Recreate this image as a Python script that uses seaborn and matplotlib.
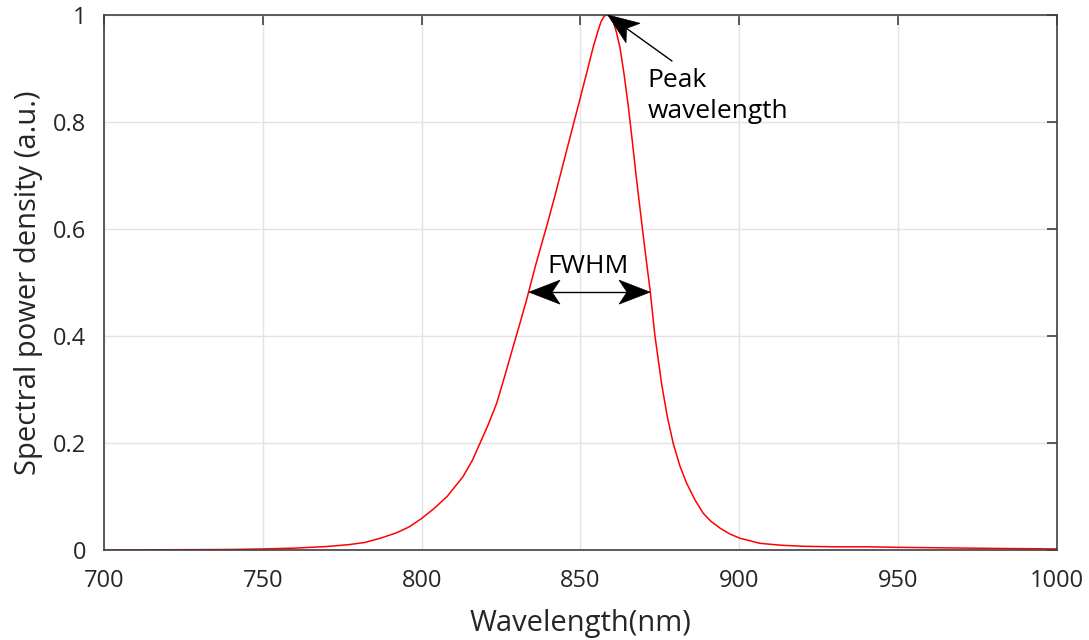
import matplotlib
matplotlib.use("Agg")
import numpy as np
import matplotlib.pyplot as plt
import seaborn as sns
import pandas as pd
from matplotlib.patches import Polygon

# spectrum
wavelength = [700, 720, 740, 750, 760, 770, 777, 782, 787, 792, 796, 800, 804,
              808, 813, 816, 818.4, 821, 823.6, 826, 828.8, 831, 833, 836,
              839.3, 842, 844.6, 847, 849.5, 852, 854, 855.5, 856.5, 857.5,
              858.3, 859.2, 860.3, 861.3, 862.4, 863.7, 865, 866.2, 867.5, 869,
              870.3, 871.9, 873.4, 875.5, 877.3, 879.2, 881.3, 883.4, 886,
              888.6, 891, 893.9, 897, 900.2, 906.5, 913, 920, 930, 940, 950,
              965, 980, 1000]
spd = [0.0, 0.0005, 0.001, 0.002, 0.0035, 0.0065, 0.010, 0.014, 0.022, 0.032,
       0.043, 0.059, 0.078, 0.100, 0.137, 0.168, 0.200, 0.235, 0.274, 0.322,
       0.380, 0.425, 0.467, 0.535, 0.604, 0.663, 0.723, 0.778, 0.835, 0.893,
       0.940, 0.970, 0.988, 0.998, 1.0, 0.998, 0.988, 0.968, 0.940, 0.890,
       0.832, 0.770, 0.700, 0.625, 0.561, 0.486, 0.402, 0.312, 0.250, 0.199,
       0.157, 0.125, 0.094, 0.069, 0.054, 0.041, 0.030, 0.022, 0.0125, 0.009,
       0.007, 0.006, 0.006, 0.005, 0.004, 0.003, 0.002]

x_ticks = [700, 750, 800, 850, 900, 950, 1000]
y_ticks = [0, 0.2, 0.4, 0.6, 0.8, 1]
y_tick_labels = ["0", "0.2", "0.4", "0.6", "0.8", "1"]

peak_tip = (858.6, 1.0)
peak_tail = (878.8, 0.914)
fwhm_left, fwhm_right, fwhm_level = 833.8, 871.9, 0.482


def arrow_head(ax, tip, tail, length=31, half_width=12, notch=8):
    # matlab style notched head, sized in pixels
    t = ax.transData.transform(tip)
    s = ax.transData.transform(tail)
    d = (t - s) / np.hypot(*(t - s))
    n = np.array([-d[1], d[0]])
    pts = [t, t - d * length + n * half_width, t - d * (length - notch),
           t - d * length - n * half_width]
    pts = ax.transData.inverted().transform(np.array(pts))
    ax.add_patch(Polygon(pts, closed=True, facecolor="black", edgecolor="black",
                         linewidth=0.5, zorder=5))
    return ax.transData.inverted().transform(t - d * (length - notch))


df = pd.DataFrame({"wavelength": wavelength, "spd": spd})

sns.set_style("white")
plt.rcParams["font.family"] = ["Open Sans", "DejaVu Sans"]

fig = plt.figure(figsize=(10.89, 6.4), dpi=100)
ax = fig.add_axes([0.0955, 0.1406, 0.8751, 0.836])

sns.lineplot(data=df, x="wavelength", y="spd", color="#ff0000", linewidth=1.1, ax=ax)

ax.set_xlim(700, 1000)
ax.set_ylim(0, 1)
ax.set_xticks(x_ticks)
ax.set_yticks(y_ticks)
ax.set_yticklabels(y_tick_labels)
ax.grid(True, color="#e3e3e3", linewidth=1.0)
ax.set_axisbelow(True)
ax.tick_params(direction="in", length=7, width=1.2, colors="#404040",
               labelcolor="#262626", labelsize=17, top=True, right=True)
ax.tick_params(axis="x", pad=14)
ax.tick_params(axis="y", pad=13)
for s in ax.spines.values():
    s.set_color("#404040")
    s.set_linewidth(1.2)
ax.set_xlabel("Wavelength(nm)", fontsize=21, color="#262626", labelpad=11)
ax.set_ylabel("Spectral power density (a.u.)", fontsize=21, color="#262626", labelpad=7)

# peak annotation
base = arrow_head(ax, peak_tip, peak_tail)
ax.plot([peak_tail[0], base[0]], [peak_tail[1], base[1]], color="black", linewidth=1.0)
ax.text(871.2, 0.90, "Peak\nwavelength", fontsize=19, color="black",
        ha="left", va="top", linespacing=1.3)

# FWHM annotation
b1 = arrow_head(ax, (fwhm_left, fwhm_level), (fwhm_right, fwhm_level))
b2 = arrow_head(ax, (fwhm_right, fwhm_level), (fwhm_left, fwhm_level))
ax.plot([b1[0], b2[0]], [fwhm_level, fwhm_level], color="black", linewidth=1.0)
ax.text(852.4, 0.529, "FWHM", fontsize=19, color="black", ha="center", va="center")

fig.savefig("out.png", dpi=100)
